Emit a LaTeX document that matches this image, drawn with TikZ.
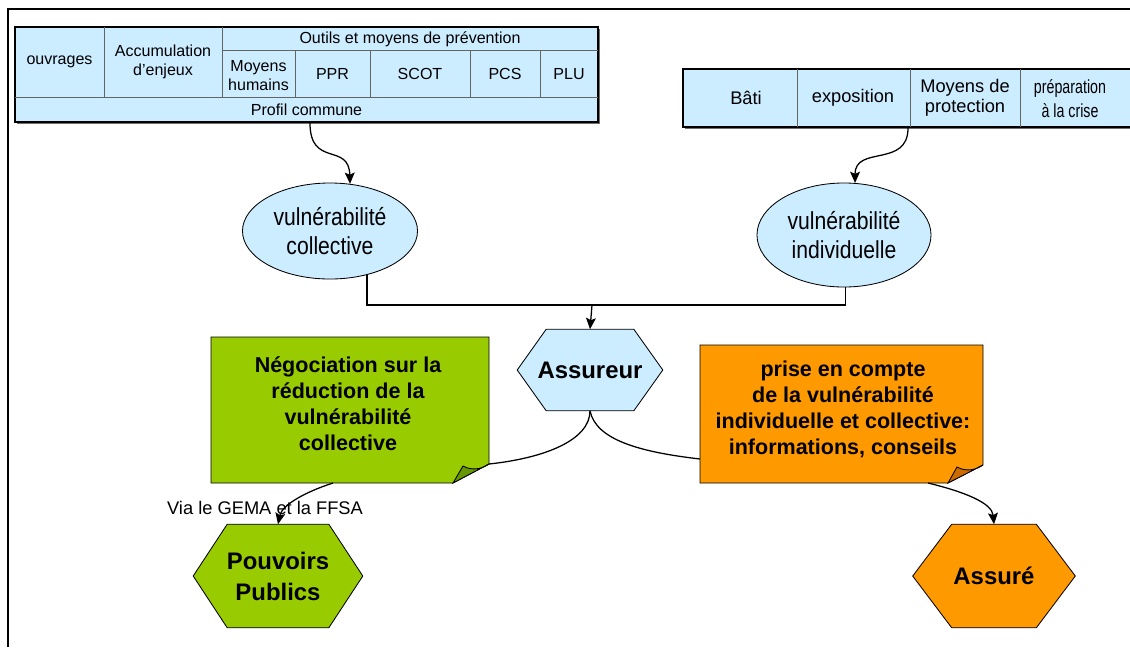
\documentclass[tikz,border=0pt]{standalone}
\usepackage{fontspec}
\setmainfont{Liberation Sans}
\newfontfamily\narrowfont[FakeStretch=0.75]{Liberation Sans}
\newfontfamily\tallfont[FakeStretch=0.86]{Liberation Sans}
\usepackage{xcolor}
\usepackage{tikz}
\usetikzlibrary{shapes.geometric,arrows.meta,backgrounds}

\definecolor{bleuclair}{RGB}{204,236,255}
\definecolor{vert}{RGB}{153,204,0}
\definecolor{orange}{RGB}{255,153,0}

\begin{document}
\begin{tikzpicture}[x=0.025cm,y=-0.025cm,
						>={Stealth[length=8pt,width=7pt,inset=1.5pt]},
						cell/.style={font=\fontsize{11.4}{13.5}\selectfont, align=center},
						cellbig/.style={font=\fontsize{13}{14.2}\selectfont, align=center},
						tablebox/.style={draw, line width=1.3pt, fill=bleuclair},
						shadowbox/.style={fill={rgb,255:red,110; green,110; blue,110}},
						rule/.style={draw={rgb,255:red,100; green,100; blue,100}, line width=0.6pt},
						vuln/.style={ellipse, draw, line width=0.6pt, fill=bleuclair, inner sep=0pt, align=center, font=\tallfont\fontsize{17.5}{20.5}\selectfont},
						hexa/.style={inner sep=0pt, align=center, font=\bfseries\fontsize{17}{22}\selectfont},
						notetext/.style={align=center, font=\bfseries\fontsize{15.3}{18.5}\selectfont},
						link/.style={line width=0.9pt}]
						\useasboundingbox (0,0) rectangle (1130,647);
						\draw [line width=1.4pt] (8,647) -- (8,9) -- (1130,9);
						% table commune
						\fill [shadowbox] (17,29) rectangle (600,124);
						\draw [tablebox] (15,27) rectangle (598,122);
						\draw [rule] (15,97) -- (598,97);
						\draw [rule] (222,50) -- (598,50);
						\foreach \x in {104,222} \draw [rule] (\x,27) -- (\x,97);
						\foreach \x in {295,370,470,540} \draw [rule] (\x,50) -- (\x,97);
						\node [cell] (ouvrages) at (59.5,62) {ouvrages};
						\node [cell] (enjeux) at (163,62) {Accumulation\\d'enjeux};
						\node [cell] (outils) at (410,39) {Outils et moyens de prévention};
						\node [cell] (humains) at (258.5,76) {Moyens\\humains};
						\node [cell] (ppr) at (332.5,74) {PPR};
						\node [cell] (scot) at (420,74) {SCOT};
						\node [cell] (pcs) at (505,74) {PCS};
						\node [cell] (plu) at (569,74) {PLU};
						\node [cell] (profil) at (306.5,110) {Profil commune};
						% table individuelle
						\begin{scope}
						\clip (0,0) rectangle (1130,647);
						\fill [shadowbox] (685,71) rectangle (1140,129);
						\draw [tablebox] (683,69) rectangle (1140,127);
						\foreach \x in {797,910,1020} \draw [rule] (\x,69) -- (\x,127);
						\end{scope}
						\node [cellbig] (bati) at (746,98) {Bâti};
						\node [cellbig] (expo) at (853,98) {exposition};
						\node [cellbig] (protection) at (965,98) {Moyens de\\protection};
						\node [cellbig, font=\narrowfont\fontsize{13.5}{17.5}\selectfont] (crise) at (1070,98.5) {préparation\\à la crise};
						\coordinate (profilout) at (310,123);
						\coordinate (indivout) at (908,128);
						% vulnerabilites
						\node [vuln, minimum width=4.375cm, minimum height=2.4cm] (vcoll) at (330,231) {vulnérabilité\\collective};
						\node [vuln, minimum width=4.35cm, minimum height=2.6cm] (vindiv) at (844,235) {vulnérabilité\\individuelle};
						\draw [link,->] (profilout) .. controls (310,168) and (349,142) .. (vcoll.67);
						\draw [link,->] (indivout) .. controls (908,168) and (855,145) .. (vindiv.78);
						\coordinate (join) at (592,305);
						\draw [link] (vcoll.-50) |- (join) -| (vindiv.-88);
						% assureur
						\node [hexa, minimum width=3.625cm, minimum height=2.025cm] (assureur) at (590,370) {Assureur};
						\draw [link,->] (join) -- (assureur.north);
						% notes
						\filldraw [fill=vert, line width=0.6pt] (211,337) -- (489,337) -- (489,464) -- (453,483) -- (211,483) -- cycle;
						\filldraw [fill={rgb,255:red,102; green,150; blue,0}, line width=0.6pt] (453,483) -- (463,466) .. controls (472,471) and (482,469) .. (489,464) -- cycle;
						\node [notetext] (nego) at (348,404) {Négociation sur la\\réduction de la\\vulnérabilité\\collective};
						\filldraw [fill=orange, line width=0.6pt] (700,345) -- (983,345) -- (983,465) -- (948,483) -- (700,483) -- cycle;
						\filldraw [fill={rgb,255:red,204; green,108; blue,0}, line width=0.6pt] (948,483) -- (957,467) .. controls (966,472) and (976,470) .. (983,465) -- cycle;
						\node [notetext] (prise) at (843,409) {prise en compte\\de la vulnérabilité\\individuelle et collective:\\informations, conseils};
						\coordinate (negofold) at (489,464);
						\coordinate (negobot) at (333,483);
						\coordinate (prisein) at (700,459);
						\coordinate (prisebot) at (928,483);
						\draw [link] (assureur.south) .. controls (590,440) and (545,458) .. (negofold);
						\draw [link] (assureur.south) .. controls (596,440) and (640,452) .. (prisein);
						% pouvoirs publics et assure
						\node [hexa, minimum width=4.225cm, minimum height=2.575cm] (pouvoirs) at (278,576) {Pouvoirs\\Publics};
						\node [hexa, minimum width=4.05cm, minimum height=2.575cm] (assure) at (994,576) {Assuré};
						\begin{scope}[on background layer]
						\foreach \n/\i/\c in {assureur/0.725cm/bleuclair, pouvoirs/0.85cm/vert, assure/0.975cm/orange}
							\filldraw [fill=\c, line width=0.6pt] (\n.west) -- ([xshift=\i]\n.north west) -- ([xshift=-\i]\n.north east) -- (\n.east) -- ([xshift=-\i]\n.south east) -- ([xshift=\i]\n.south west) -- cycle;
						\end{scope}
						\node [font=\fontsize{13}{15}\selectfont] (via) at (265,508) {Via le GEMA et la FFSA};
						\draw [link,->] (negobot) .. controls (305,492) and (282,505) .. (pouvoirs.north);
						\draw [link,->] (prisebot) .. controls (965,492) and (992,503) .. (assure.north);
					\end{tikzpicture}
\end{document}
